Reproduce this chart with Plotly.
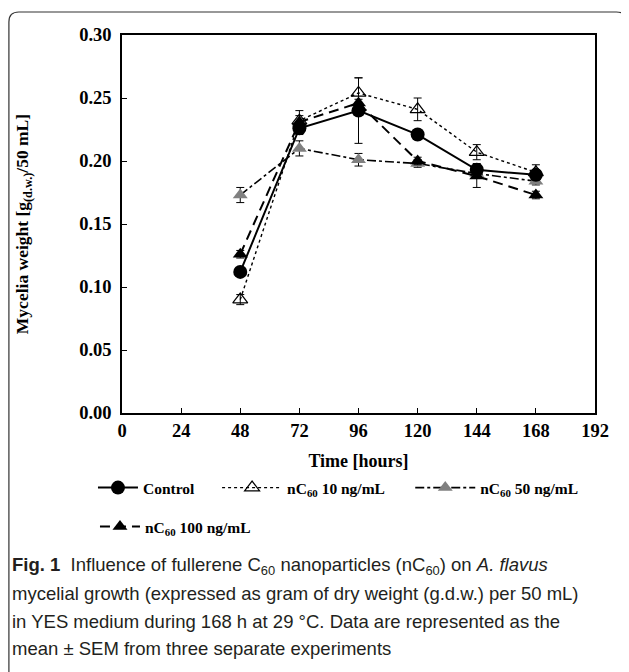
import plotly.graph_objects as go

hours = [48, 72, 96, 120, 144, 168]
control = [0.112, 0.226, 0.240, 0.221, 0.193, 0.189]
control_err = [0.003, 0.005, 0.026, 0.004, 0.005, 0.004]
nc10 = [0.090, 0.232, 0.254, 0.241, 0.207, 0.191]
nc10_err = [0.004, 0.008, 0.012, 0.009, 0.006, 0.006]
nc50 = [0.173, 0.210, 0.201, 0.198, 0.190, 0.184]
nc50_err = [0.006, 0.006, 0.005, 0.003, 0.003, 0.003]
nc100 = [0.126, 0.231, 0.246, 0.200, 0.188, 0.173]
nc100_err = [0.003, 0.005, 0.003, 0.003, 0.009, 0.003]
names = ["Control", "nC<sub>60</sub> 10 ng/mL", "nC<sub>60</sub> 50 ng/mL", "nC<sub>60</sub> 100 ng/mL"]
x_ticks = [0, 24, 48, 72, 96, 120, 144, 168, 192]
y_ticks = [0.00, 0.05, 0.10, 0.15, 0.20, 0.25, 0.30]

SERIF = "Liberation Serif"

# page is rendered with an 8px body margin; work in page pixels and convert
OFF = 8
W, H = 629 - OFF, 672 - OFF
L, T = 122 - OFF, 35 - OFF
PR, PB = 594.6 - OFF, 413 - OFF   # plot right / bottom in figure pixels
R, B = W - PR, H - PB
pw, ph = PR - L, PB - T


def px(xp):
    return (xp - OFF - L) / pw


def py(yp):
    return (PB - (yp - OFF)) / ph


def err(vals):
    return dict(type="data", array=vals, visible=True, color="black", thickness=1, width=4)


fig = go.Figure()
fig.add_trace(go.Scatter(x=hours, y=nc50, name=names[2], mode="lines+markers",
                         line=dict(color="black", width=1.6, dash="dashdot"),
                         marker=dict(symbol="triangle-up", size=13, color="#808080", line=dict(width=0)),
                         error_y=err(nc50_err), legend="legend3"))
fig.add_trace(go.Scatter(x=hours, y=nc10, name=names[1], mode="lines+markers",
                         line=dict(color="black", width=1.4, dash="dot"),
                         marker=dict(symbol="triangle-up-open", size=13, color="black", line=dict(width=1.2)),
                         error_y=err(nc10_err), legend="legend2"))
fig.add_trace(go.Scatter(x=hours, y=nc100, name=names[3], mode="lines+markers",
                         line=dict(color="black", width=2, dash="10px,6px"),
                         marker=dict(symbol="triangle-up", size=13, color="black"),
                         error_y=err(nc100_err), legend="legend4"))
fig.add_trace(go.Scatter(x=hours, y=control, name=names[0], mode="lines+markers",
                         line=dict(color="black", width=2),
                         marker=dict(symbol="circle", size=14, color="black"),
                         error_y=err(control_err), legend="legend"))

axis_common = dict(showline=True, linecolor="black", linewidth=1.5, mirror=True,
                   ticks="inside", ticklen=5, tickwidth=1, tickcolor="black",
                   showgrid=False, zeroline=False,
                   tickfont=dict(family=SERIF, size=18.5, color="black", weight="bold"))

fig.update_xaxes(range=[0, 192], tickvals=x_ticks, ticktext=[str(v) for v in x_ticks],
                 title=dict(text="<b>Time [hours]</b>", font=dict(family=SERIF, size=18, color="black"), standoff=14),
                 **axis_common)
fig.update_yaxes(range=[0, 0.30], tickvals=y_ticks, ticktext=[f"{v:.2f}" for v in y_ticks],
                 ticklabelstandoff=5,
                 title=dict(text="<b>Mycelia weight [g<sub>(d.w.)</sub>/50 mL]</b>",
                            font=dict(family=SERIF, size=17.5, color="black"), standoff=46),
                 **axis_common)

# rounded outer frame
x0, x1, y0, y1, r = px(9), px(626), py(12), py(720), 10
rx, ry = r / pw, r / ph
path = (f"M {x0},{y1} L {x0},{y0 - ry} Q {x0},{y0} {x0 + rx},{y0} "
        f"L {x1 - rx},{y0} Q {x1},{y0} {x1},{y0 - ry} L {x1},{y1}")
fig.add_shape(type="path", path=path, xref="paper", yref="paper",
              line=dict(color="#333333", width=1.2))

caption_lines = [
    "<b>Fig. 1</b>  Influence of fullerene C<sub>60</sub> nanoparticles (nC<sub>60</sub>) on <i>A. flavus</i>",
    "mycelial growth (expressed as gram of dry weight (g.d.w.) per 50 mL)",
    "in YES medium during 168 h at 29 °C. Data are represented as the",
    "mean ± SEM from three separate experiments",
]
for i, line in enumerate(caption_lines):
    fig.add_annotation(text=line, xref="paper", yref="paper", x=px(10), y=py(566 + 27.6 * i),
                       xanchor="left", yanchor="middle", showarrow=False, align="left",
                       font=dict(family="Liberation Sans", size=18.5, color="#231f20"))

leg_font = dict(family=SERIF, size=15.5, color="black", weight="bold")


def leg(xpage, ypage, iw):
    return dict(orientation="h", x=px(xpage), y=py(ypage), xanchor="left", yanchor="middle",
                font=leg_font, itemwidth=iw, bgcolor="rgba(0,0,0,0)", borderwidth=0)


fig.update_layout(
    width=W, height=H, margin=dict(l=L, r=R, t=T, b=B),
    paper_bgcolor="white", plot_bgcolor="white",
    showlegend=True,
    legend=leg(93, 488, 40),
    legend2=leg(217, 488, 60),
    legend3=leg(410, 488, 60),
    legend4=leg(95, 527, 40),
)

fig.write_html("out.html")
